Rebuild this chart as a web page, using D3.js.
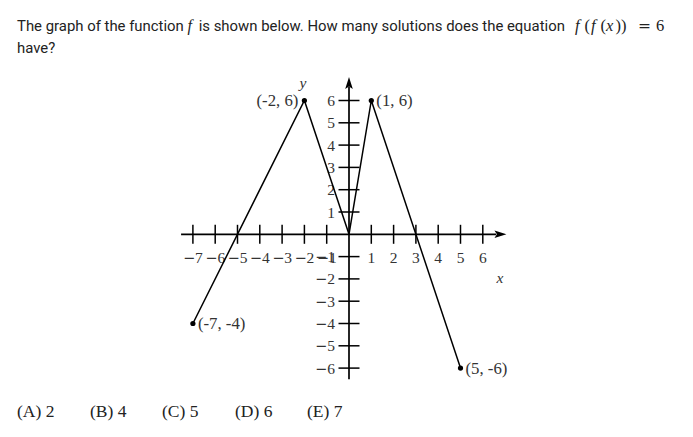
<!DOCTYPE html>
<html><head><meta charset="utf-8">
<script src="https://cdn.jsdelivr.net/npm/d3@7"></script>
<style>
body{margin:0;background:#fff;}
svg{display:block;}
</style></head>
<body>
<svg id="c" width="693" height="437"></svg>
<script>
// ---- data ----
const pointX = [-7, -2, 0, 1, 5];
const pointY = [-4, 6, 0, 6, -6];
const labeledX = [-2, 1, -7, 5];
const labeledY = [6, 6, -4, -6];
const labelText = ["(-2, 6)", "(1, 6)", "(-7, -4)", "(5, -6)"];
const labelSide = ["left", "right", "right", "right"];
const xTicks = [-7, -6, -5, -4, -3, -2, -1, 1, 2, 3, 4, 5, 6];
const yTicks = [-6, -5, -4, -3, -2, -1, 1, 2, 3, 4, 5, 6];
const choices = ["(A) 2", "(B) 4", "(C) 5", "(D) 6", "(E) 7"];

const svg = d3.select("#c");
const unit = 22.3, ox = 349, oy = 234.3;
const x = d3.scaleLinear().domain([-7, 5]).range([ox - 7 * unit, ox + 5 * unit]);
const y = d3.scaleLinear().domain([-6, 6]).range([oy + 6 * unit, oy - 6 * unit]);

const serif = "'Liberation Serif', 'Times New Roman', serif";
const sans = "Roboto, sans-serif";

// ---- title ----
const t1 = svg.append("text").attr("x", 17).attr("y", 30.5)
  .attr("font-family", sans).attr("font-size", 14.9).attr("fill", "#222");
t1.append("tspan").text("The graph of the function ");
t1.append("tspan").attr("font-family", serif).attr("font-style", "italic").attr("font-size", 16).text("f");
t1.append("tspan").text("\u2009 is shown below. How many solutions does the equation");
// math: f(f(x)) = 6
const mathParts = [["f", 575, "i"], ["(", 584.5, "n"], ["f", 591, "i"], ["(", 600.5, "n"],
  ["x", 606, "i"], ["))", 615.5, "n"], ["=", 638, "s"], ["6", 656, "n"]];
svg.selectAll(".mp").data(mathParts).join("text").attr("class", "mp")
  .attr("x", d => d[1]).attr("y", 30.5)
  .attr("font-family", d => d[2] === "s" ? "'DejaVu Sans', sans-serif" : serif)
  .attr("font-size", d => d[2] === "s" ? 15.5 : 16.5).attr("fill", "#222")
  .attr("font-style", d => d[2] === "i" ? "italic" : "normal").text(d => d[0]);
svg.append("text").attr("x", 17).attr("y", 52.5)
  .attr("font-family", sans).attr("font-size", 14.9).attr("fill", "#222").text("have?");

// ---- axes ----
const g = svg.append("g");
const axW = 1.7;
g.append("line").attr("x1", x(-7.53)).attr("x2", x(6.6)).attr("y1", y(0)).attr("y2", y(0))
  .attr("stroke", "#000").attr("stroke-width", axW);
g.append("line").attr("x1", x(0)).attr("x2", x(0)).attr("y1", y(-6.5)).attr("y2", y(6.6))
  .attr("stroke", "#000").attr("stroke-width", axW);
// arrowheads
const ax = x(7.06), ay = y(0);
g.append("path").attr("d", `M${ax},${ay} L${ax - 12},${ay - 3.8} L${ax - 9.5},${ay} L${ax - 12},${ay + 3.8} Z`).attr("fill", "#000");
const bx = x(0), by = y(7.05);
g.append("path").attr("d", `M${bx},${by} L${bx - 3.8},${by + 12} L${bx},${by + 9.5} L${bx + 3.8},${by + 12} Z`).attr("fill", "#000");

// ticks
g.selectAll(".xt").data(xTicks).join("line").attr("class", "xt")
  .attr("x1", d => x(d)).attr("x2", d => x(d)).attr("y1", y(0) - 9.5).attr("y2", y(0) + 9.5)
  .attr("stroke", "#000").attr("stroke-width", 1.5);
g.selectAll(".yt").data(yTicks).join("line").attr("class", "yt")
  .attr("y1", d => y(d)).attr("y2", d => y(d)).attr("x1", x(0) - 10.5).attr("x2", x(0) + 10.5)
  .attr("stroke", "#000").attr("stroke-width", 1.5);

// tick labels (wide TeX-like minus)
function label(sel) {
  sel.each(function (d) {
    const t = d3.select(this);
    if (d < 0) t.append("tspan").attr("font-family", "'DejaVu Sans', sans-serif").attr("font-size", 14.5).text("\u2212");
    t.append("tspan").text(Math.abs(d));
  });
}
g.selectAll(".xl").data(xTicks).join("text").attr("class", "xl")
  .attr("x", d => x(d)).attr("y", y(0) + 28.8).attr("text-anchor", "middle")
  .attr("font-family", serif).attr("font-size", 15.5).attr("fill", "#333").call(label);
g.selectAll(".yl").data(yTicks).join("text").attr("class", "yl")
  .attr("x", x(0) - 14).attr("y", d => y(d) + 5.5).attr("text-anchor", "end")
  .attr("font-family", serif).attr("font-size", 15.5).attr("fill", "#333").call(label);

// axis titles
g.append("text").attr("x", x(-2.06)).attr("y", y(6.55)).attr("text-anchor", "middle")
  .attr("font-family", serif).attr("font-style", "italic").attr("font-size", 15.5).attr("fill", "#333").text("y");
g.append("text").attr("x", x(6.77)).attr("y", y(-2.2)).attr("text-anchor", "middle")
  .attr("font-family", serif).attr("font-style", "italic").attr("font-size", 15.5).attr("fill", "#333").text("x");

// ---- function graph ----
const pts = pointX.map((v, i) => [v, pointY[i]]);
g.append("path").datum(pts)
  .attr("d", d3.line().x(d => x(d[0])).y(d => y(d[1])))
  .attr("fill", "none").attr("stroke", "#000").attr("stroke-width", 1.5).attr("stroke-linejoin", "miter");

const lab = labeledX.map((v, i) => ({x: v, y: labeledY[i], t: labelText[i], s: labelSide[i]}));
g.selectAll(".dot").data(lab).join("circle").attr("class", "dot")
  .attr("cx", d => x(d.x)).attr("cy", d => y(d.y)).attr("r", 2.6).attr("fill", "#000");
g.selectAll(".pl").data(lab).join("text").attr("class", "pl")
  .attr("x", d => d.s === "left" ? x(d.x) - 6 : x(d.x) + 5)
  .attr("y", d => y(d.y) + 5.5)
  .attr("text-anchor", d => d.s === "left" ? "end" : "start")
  .attr("font-family", serif).attr("font-size", 16.8).attr("fill", "#333").text(d => d.t);

// ---- answer choices ----
const choiceX = [17, 90, 162, 235, 307];
svg.selectAll(".ch").data(choices).join("text").attr("class", "ch")
  .attr("x", (d, i) => choiceX[i]).attr("y", 416.5)
  .attr("font-family", serif).attr("font-size", 17.5).attr("fill", "#222").text(d => d);
</script>
</body></html>
